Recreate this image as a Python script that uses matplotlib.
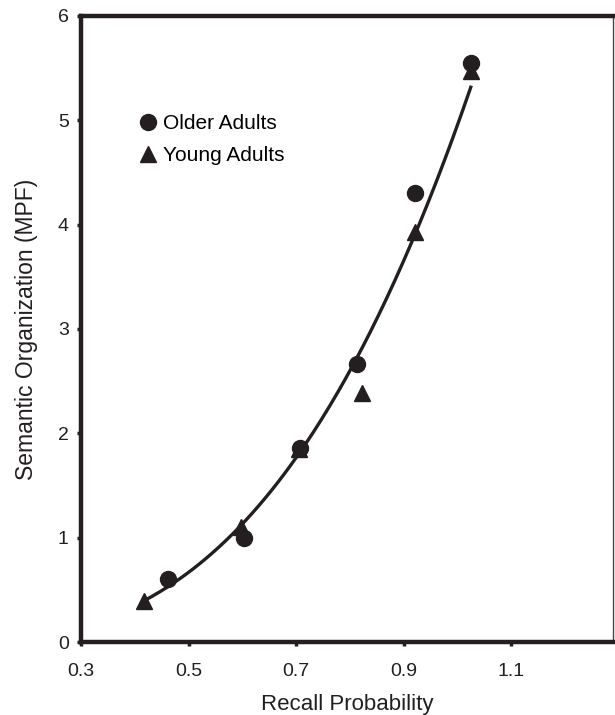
import matplotlib
matplotlib.use("Agg")
import matplotlib.pyplot as plt
import numpy as np

plt.rcParams['font.family'] = ['Liberation Sans', 'DejaVu Sans']

# Data
older_x = [0.461, 0.603, 0.707, 0.8125, 0.921, 1.025]
older_y = [0.60, 1.00, 1.86, 2.66, 4.30, 5.55]
young_x = [0.416, 0.597, 0.705, 0.823, 0.922, 1.025]
young_y = [0.39, 1.10, 1.85, 2.39, 3.93, 5.47]

x_ticks = [0.3, 0.5, 0.7, 0.9, 1.1]
y_ticks = [0, 1, 2, 3, 4, 5, 6]

ink = '#231f20'

fig = plt.figure(figsize=(6.15, 7.15), dpi=100)
ax = fig.add_axes([0.132, 0.102, 0.865, 0.876])

# power-function fit (y = a * x^b) through both groups
all_x = np.array(older_x + young_x)
all_y = np.array(older_y + young_y)
b, log_a = np.polyfit(np.log(all_x), np.log(all_y), 1)
xs = np.linspace(min(all_x), max(all_x), 200)
ax.plot(xs, np.exp(log_a) * xs ** b, color=ink, lw=2.4, zorder=2)

ax.plot(older_x, older_y, 'o', ms=11.5, color=ink, label='Older Adults', zorder=3)
ax.plot(young_x, young_y, '^', ms=11.5, color=ink, label='Young Adults', zorder=3)

ax.set_xlim(0.3, 1.29)
ax.set_ylim(0, 6)
ax.set_xticks(x_ticks)
ax.set_xticklabels([f'{v:.1f}' for v in x_ticks])
ax.set_yticks(y_ticks)

for side in ['left', 'bottom', 'top']:
    ax.spines[side].set_linewidth(3.2)
    ax.spines[side].set_color(ink)
ax.spines['right'].set_linewidth(1.0)
ax.spines['right'].set_color('#444444')

ax.tick_params(direction='out', length=3, width=2.5, color=ink,
               labelsize=14, labelcolor=ink)
ax.tick_params(axis='x', pad=12)
ax.tick_params(axis='y', pad=6)

ax.set_xlabel('Recall Probability', fontsize=16, color=ink, labelpad=10)
ax.set_ylabel('Semantic Organization (MPF)', fontsize=16.5, color=ink, labelpad=14)

ax.legend(loc='upper left', bbox_to_anchor=(0.071, 0.873), frameon=False,
          fontsize=15, handletextpad=0.2, labelspacing=0.62,
          handlelength=1.0, markerscale=1.0)

fig.savefig('out.png', dpi=100)
